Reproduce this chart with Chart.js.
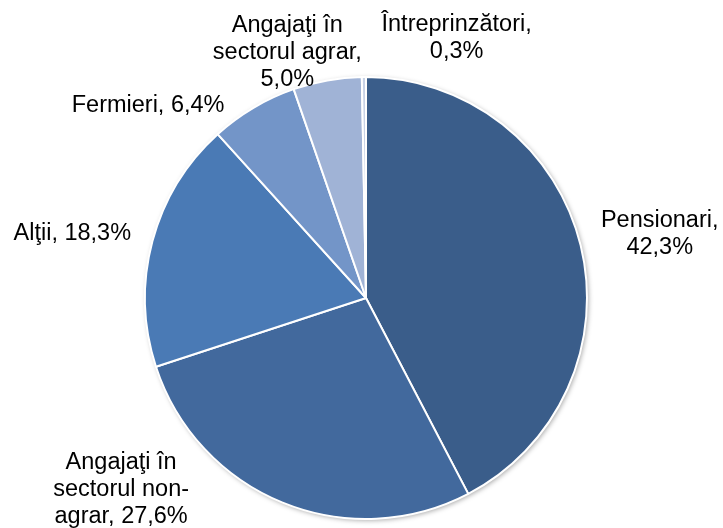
<!DOCTYPE html>
<html>
<head>
<meta charset="utf-8">
<script src="https://cdn.jsdelivr.net/npm/chart.js@4/dist/chart.umd.min.js"></script>
<style>
html,body{margin:0;padding:0;background:#fff;}
#wrap{width:723px;height:528px;position:relative;}
</style>
</head>
<body>
<div id="wrap"><canvas id="c" width="723" height="528"></canvas></div>
<script>
// Data
const categories = ["Pensionari", "Angajaţi în sectorul non-agrar", "Alţii", "Fermieri", "Angajaţi în sectorul agrar", "Întreprinzători"];
const shares = [42.3, 27.6, 18.3, 6.4, 5.0, 0.3];
const labelLines = [
  ["Pensionari,", "42,3%"],
  ["Angajaţi în", "sectorul non-", "agrar, 27,6%"],
  ["Alţii, 18,3%"],
  ["Fermieri, 6,4%"],
  ["Angajaţi în", "sectorul agrar,", "5,0%"],
  ["Întreprinzători,", "0,3%"]
];

// Style / layout
const colors = ["#3A5D8A", "#42699D", "#4A7AB5", "#7395C8", "#A0B3D6", "#C8D2E6"];
// label block centre, in units of the pie radius, relative to the pie centre
const labelAnchors = [
  [1.329, -0.288],
  [-1.108, 0.865],
  [-1.329, -0.293],
  [-0.986, -0.869],
  [-0.356, -1.113],
  [0.410, -1.176]
];
const FONT_SIZE = 23.5;
const LINE_H = 27;

const labelPlugin = {
  id: 'outLabels',
  afterDatasetsDraw(chart) {
    const ctx = chart.ctx;
    const meta = chart.getDatasetMeta(0);
    ctx.save();
    ctx.font = FONT_SIZE + 'px "Liberation Sans", Arial, sans-serif';
    ctx.fillStyle = '#000';
    ctx.textAlign = 'center';
    ctx.textBaseline = 'middle';
    meta.data.forEach((arc, i) => {
      const r = arc.outerRadius;
      const cx = arc.x + labelAnchors[i][0] * r;
      const cy = arc.y + labelAnchors[i][1] * r;
      const lines = labelLines[i];
      const y0 = cy - (lines.length - 1) * LINE_H / 2;
      lines.forEach((t, k) => ctx.fillText(t, cx, y0 + k * LINE_H));
    });
    ctx.restore();
  }
};

const shadowPlugin = {
  id: 'pieShadow',
  beforeDatasetsDraw(chart) {
    const ctx = chart.ctx;
    const arc = chart.getDatasetMeta(0).data[0];
    ctx.save();
    ctx.beginPath();
    ctx.arc(arc.x, arc.y, arc.outerRadius, 0, Math.PI * 2);
    ctx.shadowColor = 'rgba(0,0,0,0.35)';
    ctx.shadowBlur = 5;
    ctx.shadowOffsetX = 1.5;
    ctx.shadowOffsetY = 1.5;
    ctx.fillStyle = '#fff';
    ctx.fill();
    ctx.restore();
  }
};

new Chart(document.getElementById('c'), {
  type: 'pie',
  data: {
    labels: categories,
    datasets: [{
      data: shares,
      backgroundColor: colors,
      borderColor: '#ffffff',
      borderWidth: 2,
      borderAlign: 'center'
    }]
  },
  options: {
    responsive: false,
    animation: false,
    rotation: 0,
    layout: { padding: { top: 76, bottom: 8, left: 9, right: 0 } },
    plugins: {
      legend: { display: false },
      tooltip: { enabled: false }
    }
  },
  plugins: [shadowPlugin, labelPlugin]
});
</script>
</body>
</html>
